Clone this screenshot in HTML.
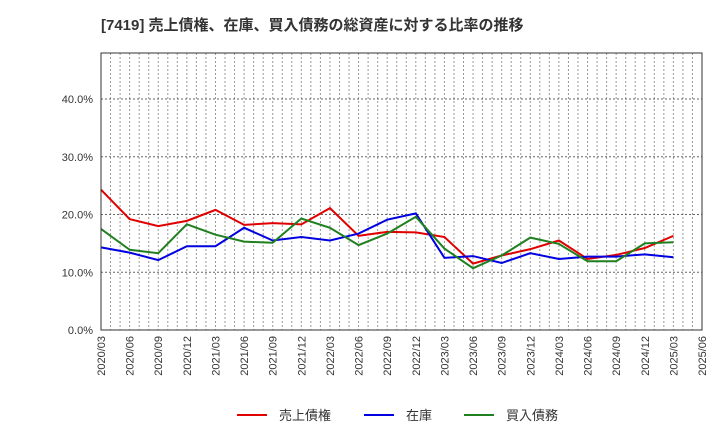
<!DOCTYPE html>
<html><head><meta charset="utf-8"><style>
body{margin:0;background:#fff;font-family:"Liberation Sans","Noto Sans CJK JP",sans-serif;}
</style></head><body>
<svg width="720" height="440" xmlns="http://www.w3.org/2000/svg" style="font-family:'Liberation Sans','Noto Sans CJK JP',sans-serif">
<text x="101" y="30" font-size="15" font-weight="bold" fill="#333">[7419]  売上債権、在庫、買入債務の総資産に対する比率の推移</text>
<g id="grid"></g><g id="axes"></g><g id="series"></g>
<rect x="101" y="53" width="601" height="277" fill="none" stroke="#333" stroke-width="1"/>
<g id="legend"></g>
</svg>
<script>
const xLabels=["2020/03","2020/06","2020/09","2020/12","2021/03","2021/06","2021/09","2021/12","2022/03","2022/06","2022/09","2022/12","2023/03","2023/06","2023/09","2023/12","2024/03","2024/06","2024/09","2024/12","2025/03","2025/06"];
const yTicks=[0,10,20,30,40];
const receivables=[24.3,19.2,18.0,18.9,20.8,18.2,18.5,18.3,21.1,16.3,17.0,16.9,16.1,11.5,12.9,14.0,15.5,12.3,13.0,14.2,16.3];
const inventory=[14.3,13.4,12.1,14.5,14.5,17.7,15.5,16.1,15.5,16.7,19.1,20.2,12.5,12.8,11.6,13.3,12.3,12.7,12.7,13.1,12.6];
const payables=[17.5,13.9,13.3,18.3,16.5,15.3,15.1,19.3,17.7,14.7,16.7,19.6,14.1,10.7,12.9,16.0,14.9,11.9,11.9,15.0,15.2];
const NS="http://www.w3.org/2000/svg";
const L=101,R=702,T=53,B=330;
const xs=i=>L+(R-L)*i/(xLabels.length-1);
const ys=v=>B-(B-99)*v/40;
function mk(t,a,p){const e=document.createElementNS(NS,t);for(const k in a)e.setAttribute(k,a[k]);p.appendChild(e);return e;}
const grid=document.getElementById('grid'),axes=document.getElementById('axes'),ser=document.getElementById('series'),leg=document.getElementById('legend');
const months=(xLabels.length-1)*3;
for(let m=1;m<months;m++){const x=L+(R-L)*m/months;
const g=mk('line',{x1:x,x2:x,y1:T,y2:B,stroke:'#999','stroke-dasharray':'2,2','stroke-width':1},grid);

}
yTicks.forEach(v=>{const y=ys(v);
if(v>0){const g=mk('line',{x1:L,x2:R,y1:y,y2:y,stroke:'#666','stroke-dasharray':'2,2','stroke-width':1},grid);

}
const t=mk('text',{x:L-8,y:y+4,'text-anchor':'end','font-size':11,fill:'#333'},axes);t.textContent=v.toFixed(1)+'%';

});
xLabels.forEach((s,i)=>{const x=xs(i);const t=mk('text',{transform:`translate(${x+4},${B+6}) rotate(-90)`,'text-anchor':'end','font-size':11,fill:'#333'},axes);t.textContent=s;

});
const series=[[receivables,'#e00000','売上債権','receivables-line'],[inventory,'#0000e0','在庫','inventory-line'],[payables,'#208020','買入債務','payables-line']];
series.forEach(([d,c,n,id])=>{const p=mk('polyline',{points:d.map((v,i)=>xs(i)+','+ys(v)).join(' '),fill:'none',stroke:c,'stroke-width':2},ser);

});
const lx=[237,364,464];
series.forEach(([d,c,n,id],k)=>{const g=mk('g',{},leg);


mk('line',{x1:lx[k],x2:lx[k]+30,y1:415,y2:415,stroke:c,'stroke-width':2},g);
const t=mk('text',{x:lx[k]+42,y:420,'font-size':13,fill:'#333'},g);t.textContent=n;});
</script>
</body></html>
